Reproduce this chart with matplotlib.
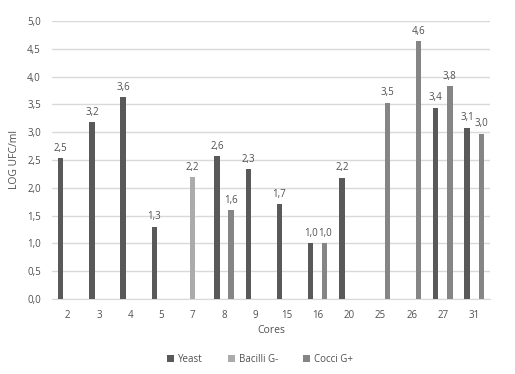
import matplotlib
matplotlib.use("Agg")
import matplotlib.pyplot as plt
import numpy as np
from matplotlib.ticker import FuncFormatter, MultipleLocator

plt.rcParams['font.family'] = ['Open Sans', 'DejaVu Sans']

categories = ['2', '3', '4', '5', '7', '8', '9', '15', '16', '20', '25', '26', '27', '31']
nan = np.nan
yeast   = [2.53, 3.18, 3.63, 1.30, nan, 2.57, 2.33, 1.70, 1.00, 2.18, nan, nan, 3.44, 3.08]
bacilli = [nan, nan, nan, nan, 2.19, nan, nan, nan, nan, nan, nan, nan, nan, nan]
cocci   = [nan, nan, nan, nan, nan, 1.60, nan, nan, 1.00, nan, 3.53, 4.64, 3.83, 2.97]

series = [('Yeast', yeast, '#595959'),
          ('Bacilli G-', bacilli, '#ababab'),
          ('Cocci G+', cocci, '#858585')]

txt = '#505050'
fig = plt.figure(figsize=(5.15, 3.74), dpi=100)
ax = fig.add_axes([0.101, 0.2005, 0.85, 0.7435])

x = np.arange(len(categories))
step = 0.225
bw = 0.17
for i, (name, vals, col) in enumerate(series):
    v = np.array(vals, dtype=float)
    pos = x + (i - 1) * step
    ax.bar(pos, np.nan_to_num(v), width=bw, color=col, label=name, zorder=3)
    for p, val in zip(pos, v):
        if not np.isnan(val):
            ax.text(p, val + 0.08, f"{val:.1f}".replace('.', ','), ha='center', va='bottom',
                    fontsize=7, color=txt)

ax.set_xlim(-0.5, len(categories) - 0.5)
ax.set_ylim(0, 5.0)
ax.yaxis.set_major_locator(MultipleLocator(0.5))
ax.yaxis.set_major_formatter(FuncFormatter(lambda v, p: f"{v:.1f}".replace('.', ',')))
ax.set_xticks(x)
ax.set_xticklabels(categories)
ax.grid(axis='y', color='#d9d9d9', linewidth=1, zorder=0)
for s in ['top', 'right', 'left']:
    ax.spines[s].set_visible(False)
ax.spines['bottom'].set_color('#d9d9d9')
ax.tick_params(axis='both', length=0, labelsize=7, colors=txt)
ax.tick_params(axis='y', pad=8)
ax.tick_params(axis='x', pad=8)
ax.set_xlabel('Cores', fontsize=7.5, color=txt, labelpad=3)
ax.set_ylabel('LOG UFC/ml', fontsize=7.5, color=txt)
ax.yaxis.set_label_coords(-0.072, 0.5)

fig.legend(loc='center', bbox_to_anchor=(0.505, 0.04), ncol=3, frameon=False,
           fontsize=7, handlelength=0.7, handleheight=0.7, handletextpad=0.4,
           columnspacing=2.6, labelcolor=txt)

fig.savefig('out.png', dpi=100)
